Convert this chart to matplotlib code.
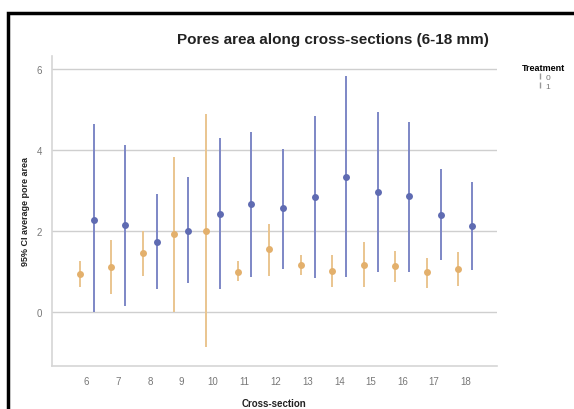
import matplotlib
matplotlib.use("Agg")
import matplotlib.pyplot as plt
from matplotlib.patches import Rectangle
from matplotlib.lines import Line2D
import numpy as np

plt.rcParams["font.family"] = ["Liberation Sans", "DejaVu Sans"]

# cross-sections (mm)
sections = [6, 7, 8, 9, 10, 11, 12, 13, 14, 15, 16, 17, 18]

# treatment 0 (orange): mean and 95% CI bounds
mean_t0 = [0.95, 1.12, 1.47, 1.92, 2.0, 1.0, 1.56, 1.16, 1.02, 1.17, 1.14, 0.98, 1.06]
low_t0 = [0.62, 0.45, 0.89, 0.0, -0.87, 0.76, 0.89, 0.92, 0.62, 0.62, 0.74, 0.59, 0.64]
high_t0 = [1.27, 1.77, 2.0, 3.82, 4.88, 1.27, 2.17, 1.41, 1.41, 1.73, 1.51, 1.33, 1.48]

# treatment 1 (blue)
mean_t1 = [2.28, 2.15, 1.74, 2.0, 2.43, 2.66, 2.57, 2.84, 3.34, 2.97, 2.87, 2.4, 2.12]
low_t1 = [0.0, 0.15, 0.57, 0.72, 0.57, 0.86, 1.07, 0.84, 0.87, 0.98, 1.0, 1.29, 1.04]
high_t1 = [4.63, 4.13, 2.92, 3.34, 4.3, 4.45, 4.02, 4.85, 5.82, 4.95, 4.7, 3.52, 3.22]

y_ticks = [0, 2, 4, 6]

c0 = "#e3b06c"
c1 = "#5f6bb2"


def draw_series(ax, xs, mean, low, high, color, lc):
    mean = np.array(mean)
    err = [mean - np.array(low), np.array(high) - mean]
    ax.errorbar(xs, mean, yerr=err, fmt="o", color=color, ecolor=lc,
                elinewidth=1.4, capsize=1.5, capthick=1.0, markersize=5,
                markeredgewidth=0, zorder=3)


fig = plt.figure(figsize=(5.74, 4.10), dpi=100)
ax = fig.add_axes([52 / 574, 1 - 367 / 410, (497 - 52) / 574, (367 - 57) / 410])

pos = np.arange(len(sections))
draw_series(ax, pos - 0.22, mean_t0, low_t0, high_t0, c0, "#eac58f")
draw_series(ax, pos + 0.22, mean_t1, low_t1, high_t1, c1, "#7d87c6")

ax.set_xlim(-1.1, 13.0)
ax.set_ylim(-1.33, 6.32)
ax.set_xticks(pos)
ax.set_xticklabels([str(s) for s in sections])
ax.set_yticks(y_ticks)
ax.tick_params(axis="both", length=0, labelsize=7, colors="#777777", pad=7)
ax.grid(axis="y", color="#cfcfcf", linewidth=1.0, zorder=0)
ax.set_axisbelow(True)
for s in ["top", "right"]:
    ax.spines[s].set_visible(False)
for s in ["left", "bottom"]:
    ax.spines[s].set_color("#d6d6d6")
    ax.spines[s].set_linewidth(1.2)

ax.set_xlabel("Cross-section", fontsize=7, fontweight="bold", color="#222222", labelpad=9)
ax.set_ylabel("95% CI average pore area", fontsize=6.5, fontweight="bold", color="#222222", labelpad=5)

fig.text(333 / 574, 1 - 40 / 410, "Pores area along cross-sections (6-18 mm)",
         ha="center", va="center", fontsize=11, fontweight="bold", color="#222222")

# legend
handles = [
    Line2D([0], [0], color="#999999", marker="|", linestyle="none", markersize=5),
    Line2D([0], [0], color="#999999", marker="|", linestyle="none", markersize=5),
]
leg = fig.legend(handles, ["0", "1"], title="Treatment", loc="upper left",
                 bbox_to_anchor=(518 / 574, 1 - 60 / 410), frameon=False,
                 fontsize=6, title_fontsize=6.5, handlelength=0.6,
                 handletextpad=0.3, labelspacing=0.1, borderpad=0)
leg.get_title().set_fontweight("bold")
for t in leg.get_texts():
    t.set_color("#777777")

# outer frame
fig.patches.append(Rectangle((8 / 574, -0.01), 1.0, 1 - 14 / 410 + 0.01,
                             transform=fig.transFigure, fill=False,
                             edgecolor="black", linewidth=2.5))

fig.savefig("out.png", dpi=100)
